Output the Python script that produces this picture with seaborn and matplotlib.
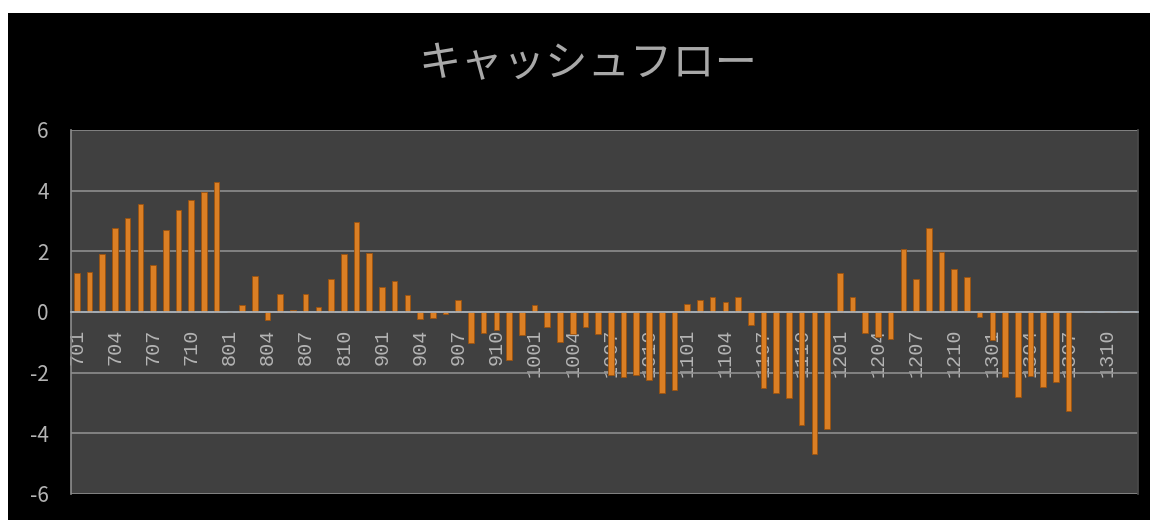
import numpy as np
import pandas as pd
import matplotlib
matplotlib.use("Agg")
import matplotlib.pyplot as plt
from matplotlib.patches import Rectangle
import seaborn as sns

# Months 701 .. 1312 (YYM format)
months = [f"{y}{m:02d}" for y in range(7, 14) for m in range(1, 13)]

# Cash flow values, one list per year
cf_2007 = [1.30, 1.33, 1.90, 2.76, 3.11, 3.55, 1.55, 2.69, 3.37, 3.68, 3.97, 4.28]
cf_2008 = [0.00, 0.24, 1.20, -0.27, 0.60, 0.06, 0.60, 0.15, 1.08, 1.90, 2.98, 1.95]
cf_2009 = [0.81, 1.03, 0.55, -0.24, -0.20, -0.05, 0.41, -1.03, -0.70, -0.60, -1.58, -0.76]
cf_2010 = [0.24, -0.49, -0.98, -0.71, -0.49, -0.71, -2.07, -2.13, -2.07, -2.24, -2.68, -2.57]
cf_2011 = [0.25, 0.41, 0.51, 0.33, 0.51, -0.44, -2.51, -2.68, -2.84, -3.74, -4.67, -3.85]
cf_2012 = [1.29, 0.49, -0.69, -0.82, -0.88, 2.09, 1.08, 2.78, 1.98, 1.43, 1.15, -0.16]
cf_2013 = [-0.93, -2.14, -2.80, -2.12, -2.47, -2.31, -3.26, 0.0, 0.0, 0.0, 0.0, 0.0]

values = cf_2007 + cf_2008 + cf_2009 + cf_2010 + cf_2011 + cf_2012 + cf_2013
df = pd.DataFrame({"month": months, "cash": values})

y_ticks = [-6, -4, -2, 0, 2, 4, 6]
title = "キャッシュフロー"

sns.set_theme(style="dark")
plt.rcParams["font.family"] = ["Noto Sans CJK JP", "DejaVu Sans"]

fig = plt.figure(figsize=(11.5, 5.2), dpi=100, facecolor="white")
# black panel behind the chart (thin white margin at top/left as in the source)
fig.patches.append(Rectangle((8 / 1150, 0), 1 - 8 / 1150, (520 - 13) / 520,
                             transform=fig.transFigure, facecolor="black",
                             edgecolor="none", zorder=-10))

ax = fig.add_axes([71 / 1150, 1 - 494 / 520, (1138 - 71) / 1150, (494 - 130) / 520])
ax.set_facecolor("#404040")

sns.barplot(data=df, x="month", y="cash", order=months, color="#DB7F24",
            width=0.44, edgecolor="#9C520E", linewidth=0.6, saturation=1,
            ax=ax, zorder=3)

ax.set_xlim(-0.45, len(months) - 0.55)
ax.set_ylim(-6, 6)
ax.set_yticks(y_ticks)
ax.set_yticklabels([str(v) for v in y_ticks])
ax.grid(axis="y", color="#8E8E8E", linewidth=1.2, zorder=1)
ax.grid(axis="x", visible=False)

# x axis sits on the zero line
ax.spines["bottom"].set_position(("data", 0))
ax.spines["bottom"].set_color("#A9B3BD")
ax.spines["bottom"].set_linewidth(1.2)
ax.spines["bottom"].set_zorder(4)
ax.spines["left"].set_color("#8E8E8E")
ax.spines["left"].set_linewidth(1.2)
ax.spines["top"].set_visible(False)
ax.spines["right"].set_color("#4A4A4A")

major = list(range(0, len(months), 3))
ax.set_xticks(major)
ax.set_xticklabels([months[i] for i in major], rotation=90, ha="center", va="top",
                   fontsize=14.5, color="#B4B4B4", family=["Liberation Mono", "DejaVu Sans Mono"])
ax.set_xticks(np.arange(0.5, len(months) - 1, 1), minor=True)
ax.tick_params(axis="x", which="major", length=0, pad=12)
ax.tick_params(axis="x", which="minor", length=6, width=1, color="#A9B3BD", direction="out")
ax.tick_params(axis="y", length=6, width=1.2, color="#8E8E8E", pad=10,
               labelsize=15, labelcolor="#B4B4B4")

ax.set_xlabel("")
ax.set_ylabel("")

fig.text(588 / 1150, 1 - 64 / 520, title, ha="center", va="center",
         fontsize=30.5, color="#A8A8A8")

fig.savefig("out.png", dpi=100, facecolor=fig.get_facecolor())
